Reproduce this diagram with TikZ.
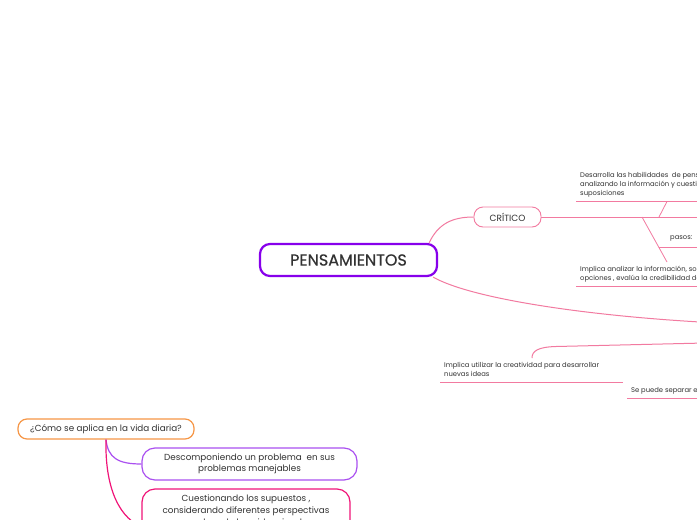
\documentclass[tikz,border=0pt]{standalone}
\usepackage{fontspec}
\setmainfont{Poppins}
\newfontfamily\titlefont[FakeBold=0.6]{Poppins}
\definecolor{textgray}{RGB}{50,50,50}
\definecolor{mainpurple}{RGB}{135,0,235}
\definecolor{pinkline}{RGB}{242,122,160}
\definecolor{orangec}{RGB}{246,150,70}
\definecolor{boxpurple}{RGB}{170,80,240}
\definecolor{magentac}{RGB}{240,20,120}
\begin{document}
\begin{tikzpicture}[x=1pt,y=-1pt,
  txt/.style={text=textgray, font=\fontsize{6.8}{9.2}\selectfont, align=left, inner sep=0pt, anchor=north west},
  pinkconn/.style={draw=pinkline, line width=1pt},
  uline/.style={draw=pinkline, line width=0.8pt},
  bigbox/.style={draw, rounded corners=12pt, text=textgray, align=center, inner sep=2pt, font=\fontsize{8.8}{12}\selectfont}
]
\useasboundingbox (0,0) rectangle (697,520);
\fill[white] (0,0) rectangle (697,520);
\clip (0,0) rectangle (697,520);

% main node
\node[draw=mainpurple, line width=2.2pt, rounded corners=10pt, minimum width=177pt, minimum height=32pt,
      font=\titlefont\fontsize{16}{18}\selectfont, text=textgray, inner sep=0pt] (main) at (348.5,260) {PENSAMIENTOS};

% CRITICO
\node[draw=pinkline, line width=0.9pt, rounded corners=9pt, minimum width=67pt, minimum height=20pt,
      font=\fontsize{9}{10}\selectfont, text=textgray, inner sep=0pt] (crit) at (507.5,217) {CRÍTICO};
\draw[pinkconn] ([xshift=-9pt]main.north east) .. controls (438,224) and (452,217) .. (crit.west);
\coordinate (critend) at (705,217);
\draw[pinkconn] (crit.east) -- (critend);

% upper text
\node[txt] (t1) at (580,172) {Desarrolla las habilidades\ \ de pensamiento crítico\\analizando la información y cuestionando las\\suposiciones};
\coordinate (u1a) at (576,201.5); \coordinate (u1b) at (705,201.5);
\draw[uline] (u1a) -- (u1b);
\coordinate (j1) at (667,201.5); \coordinate (j2) at (659,217);
\draw[uline] (j1) -- (j2);
\coordinate (j3) at (642,217); \coordinate (j4) at (667,262);
\draw[uline] (j3) -- (j4);
\node[txt] (pasos) at (670,236) {pasos:};
\coordinate (p1) at (658.7,247); \coordinate (p2) at (705,247);
\draw[uline] (p1) -- (p2);

% lower text
\node[txt] (t2) at (580,266) {Implica analizar la información, sopesar las\\opciones , evalúa la credibilidad de las fuentes};
\coordinate (u2a) at (576,286); \coordinate (u2b) at (705,286);
\draw[uline] (u2a) -- (u2b);

% lower connector from main
\coordinate (creaend) at (700,322);
\draw[pinkconn] ([xshift=-5pt]main.south east) .. controls (470,298) and (580,315) .. (creaend);

% second branch to text 3
\coordinate (c3a) at (705,343);
\coordinate (c3b) at (556,346.5);
\coordinate (c3c) at (532,358);
\draw[pinkconn] (c3a) -- (c3b) .. controls (538,347) and (532,351) .. (c3c);
\node[txt] (t3) at (444,362) {Implica utilizar la creatividad para desarrollar\\nuevas ideas};
\coordinate (u3a) at (440,382); \coordinate (u3b) at (623,382);
\draw[uline] (u3a) -- (u3b);
\node[txt] (t4) at (631,387) {Se puede separar en dos tipos};
\coordinate (u4a) at (627,398); \coordinate (u4b) at (705,398);
\draw[uline] (u4a) -- (u4b);

% bottom left
\node[bigbox, draw=orangec, line width=1.2pt, rounded corners=9pt, minimum width=176pt, minimum height=20pt, inner sep=0pt] (q) at (106,429) {¿Cómo se aplica en la vida diaria?};
\node[bigbox, draw=boxpurple, line width=1.2pt, rounded corners=13pt, minimum width=215pt, minimum height=32pt, inner sep=0pt, font=\fontsize{8.8}{11}\selectfont] (d) at (249.5,464) {Descomponiendo un problema\ \ en sus\\problemas manejables};
\node[bigbox, draw=magentac, line width=1.2pt, rounded corners=13pt, minimum width=208pt, minimum height=56pt, inner sep=0pt] (c) at (246,517) {Cuestionando los supuestos ,\\considerando diferentes perspectivas\\y evaluando la evidencia y los\\argumentos};
\draw[draw=boxpurple, line width=1.2pt] (q.south) .. controls (108,458) and (118,464) .. (d.west);
\draw[draw=magentac, line width=1.2pt] (q.south) .. controls (105,480) and (115,515) .. ([yshift=-10pt]c.west);
\end{tikzpicture}
\end{document}
